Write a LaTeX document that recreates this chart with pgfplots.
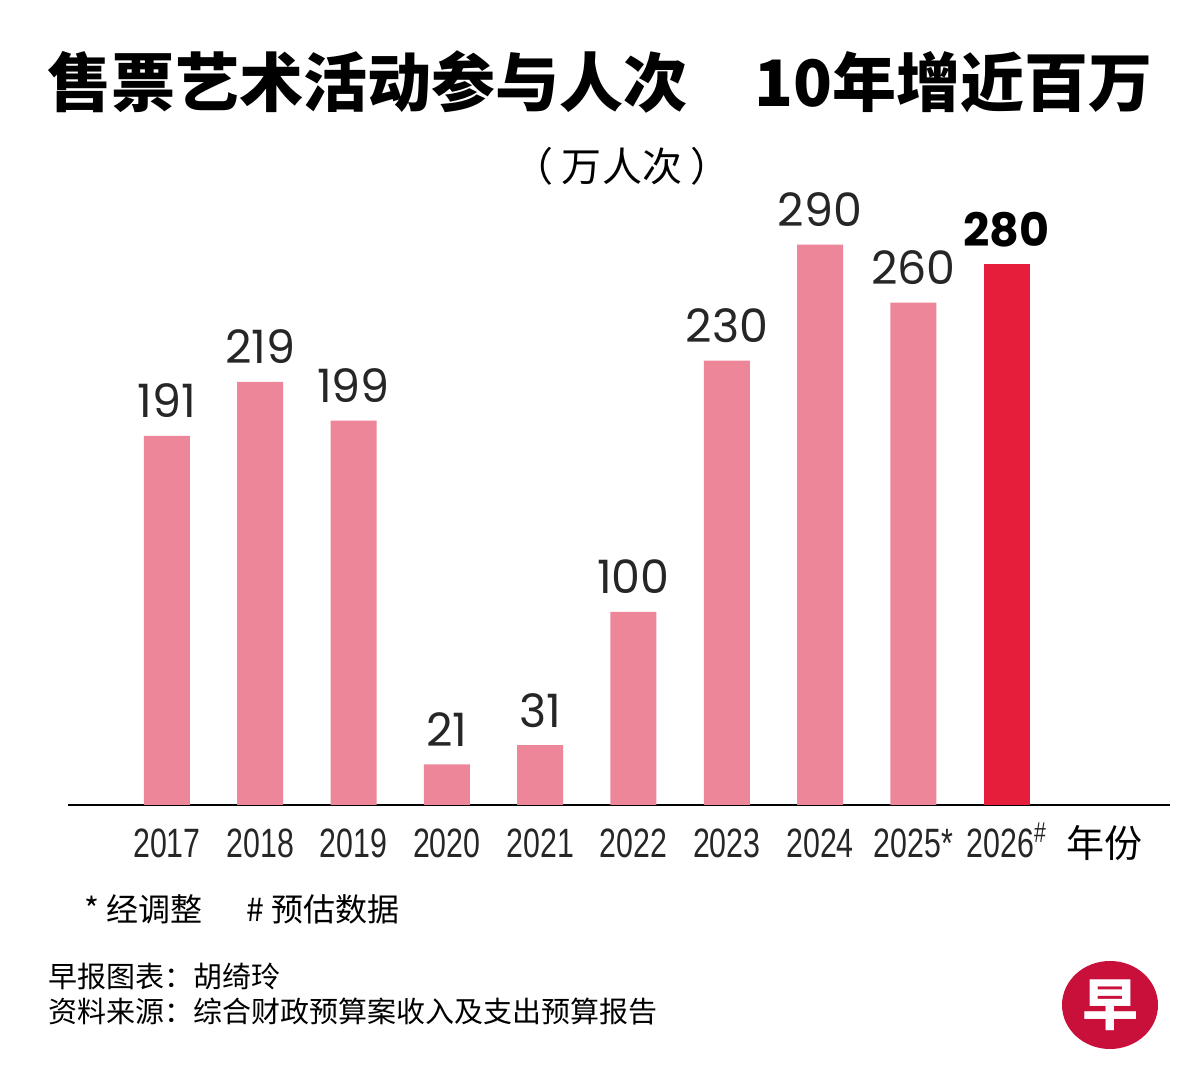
\documentclass[border=0pt]{standalone}
\usepackage{fontspec}
\usepackage{pgfplots}
\pgfplotsset{compat=1.18}
\setmainfont{Liberation Sans}
\newfontfamily\cjk{Noto Sans CJK SC}
\newfontfamily\cond[FakeStretch=0.74]{Liberation Sans}
\newfontfamily\geo{Poppins}
\definecolor{pinkc}{HTML}{EE8699}
\definecolor{redc}{HTML}{E61E3C}
\definecolor{logored}{HTML}{C8103A}
\begin{document}
\begin{tikzpicture}
\fill[white] (0pt,0pt) rectangle (600pt,540pt);
% title
\node[anchor=center,inner sep=0] at (300pt,499pt) {\cjk\bfseries\fontsize{32pt}{36pt}\selectfont 售票艺术活动参与人次\hspace{34pt}10年增近百万};
\node[anchor=center,inner sep=0] at (311pt,457pt) {\cjk\fontsize{20pt}{24pt}\selectfont （ 万人次 ）};
\begin{axis}[
  at={(34pt,137.5pt)}, anchor=south west,
  scale only axis, width=551pt, height=289.8pt,
  xmin=-1.06, xmax=10.75, ymin=0, ymax=300,
  axis x line=bottom, axis y line=none,
  x axis line style={-, line width=1pt, black},
  xtick={0,...,9},
  xticklabels={2017,2018,2019,2020,2021,2022,2023,2024,2025*,2026\textsuperscript{\#}},
  major tick length=0pt,
  xtick style={draw=none},
  xticklabel style={font=\cond\fontsize{20.5pt}{24pt}\selectfont, anchor=base, yshift=-26.5pt, text=black!85},
  clip=false,
  nodes near coords,
  point meta=explicit symbolic,
  every node near coord/.append style={anchor=base, yshift=9pt, inner sep=0pt, text=black!85},
]
\addplot[ybar, bar width=23pt, bar shift=0pt, fill=pinkc, draw=none,
  every node near coord/.append style={font=\geo\fontsize{23pt}{26pt}\selectfont}]
 coordinates {(0,191)[191] (1,219)[219] (2,199)[199] (3,21)[21] (4,31)[31] (5,100)[100] (6,230)[230] (7,290)[290] (8,260)[260]};
\addplot[ybar, bar width=23pt, bar shift=0pt, fill=redc, draw=none,
  every node near coord/.append style={font=\geo\bfseries\fontsize{23pt}{26pt}\selectfont, text=black}]
 coordinates {(9,280)[280]};
\end{axis}
\node[anchor=base,inner sep=0] at (552pt,111pt) {\cjk\fontsize{19pt}{22pt}\selectfont 年份};
% notes
\node[anchor=base west,inner sep=0] at (42pt,79pt) {\cjk\fontsize{16pt}{20pt}\selectfont * 经调整\hspace{22pt}\# 预估数据};
\node[anchor=base west,inner sep=0] at (24pt,46pt) {\cjk\fontsize{14.5pt}{18pt}\selectfont 早报图表：胡绮玲};
\node[anchor=base west,inner sep=0] at (24pt,28.5pt) {\cjk\fontsize{14.5pt}{18pt}\selectfont 资料来源：综合财政预算案收入及支出预算报告};
% logo
\fill[logored] (555pt,37.5pt) ellipse (24pt and 22pt);
\node[text=white,inner sep=0] at (555pt,37.5pt) {\cjk\bfseries\fontsize{28pt}{30pt}\selectfont 早};
\end{tikzpicture}
\end{document}
